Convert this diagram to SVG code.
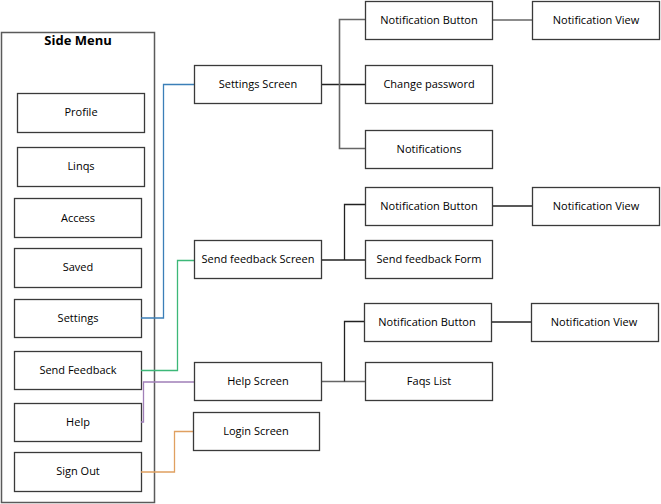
<svg xmlns="http://www.w3.org/2000/svg" width="661" height="504" viewBox="0 0 661 504">
<style>
.b{fill:#fff;stroke:#3a3a3a;stroke-width:1.3}
.c{fill:#fff;stroke:#5a5a5a;stroke-width:1.5}
.t{font-family:"Open Sans","Liberation Sans",sans-serif;font-size:11px;fill:#000;text-anchor:middle;dominant-baseline:central}
.h{font-family:"Open Sans","Liberation Sans",sans-serif;font-size:13px;font-weight:bold;fill:#000;text-anchor:middle}
.k{fill:none;stroke:#222;stroke-width:1.3}
.g{fill:none;stroke:#666;stroke-width:1.6}
</style>
<rect width="661" height="504" fill="#fff"/>
<g id="side-menu">
<rect class="c" x="1.5" y="32.5" width="153" height="470"/>
<text class="h" x="78" y="45">Side Menu</text>
</g>
<g id="profile"><rect class="b" x="17.5" y="93.5" width="127" height="39"/><text class="t" x="81" y="111">Profile</text></g>
<g id="linqs"><rect class="b" x="17.5" y="147.5" width="127" height="39"/><text class="t" x="81" y="165">Linqs</text></g>
<g id="access"><rect class="b" x="14.5" y="198.5" width="127" height="39"/><text class="t" x="78" y="217">Access</text></g>
<g id="saved"><rect class="b" x="14.5" y="248.5" width="127" height="39"/><text class="t" x="78" y="266">Saved</text></g>
<g id="settings"><rect class="b" x="14.5" y="299.5" width="127" height="38"/><text class="t" x="78" y="317">Settings</text></g>
<g id="send-feedback"><rect class="b" x="14.5" y="351.5" width="127" height="38"/><text class="t" x="78" y="369">Send Feedback</text></g>
<g id="help"><rect class="b" x="14.5" y="403.5" width="127" height="38"/><text class="t" x="78" y="421">Help</text></g>
<g id="sign-out"><rect class="b" x="14.5" y="452.5" width="127" height="39"/><text class="t" x="78" y="470">Sign Out</text></g>

<g id="connectors">
<polyline fill="none" stroke="#3b7fb8" stroke-width="1.3" points="141,318 163.5,318 163.5,84.5 194,84.5"/>
<polyline fill="none" stroke="#3cb878" stroke-width="1.3" points="141,370.5 177.5,370.5 177.5,260.5 194,260.5"/>
<polyline fill="none" stroke="#a07fb8" stroke-width="1.3" points="141,422 143.5,422 143.5,382 194,382"/>
<polyline fill="none" stroke="#e0a060" stroke-width="1.3" points="141,472 174.5,472 174.5,431.5 193,431.5"/>
<polyline class="k" points="322,84.5 366,84.5"/>
<polyline class="g" points="365,19.5 339.5,19.5 339.5,148.5 365,148.5"/>
<line class="g" x1="492" y1="20" x2="532" y2="20"/>
<polyline class="k" points="322,260 365,260"/>
<polyline class="k" points="365,204.5 344.5,204.5 344.5,260"/>
<line class="k" x1="492" y1="206" x2="532" y2="206"/>
<polyline class="g" points="322,381.5 365,381.5"/>
<polyline class="k" points="364,321.5 344.5,321.5 344.5,381.5"/>
<line class="k" x1="491" y1="322" x2="531" y2="322"/>
</g>

<g id="settings-screen"><rect class="b" x="194.5" y="65.5" width="127" height="38"/><text class="t" x="258" y="83">Settings Screen</text></g>
<g id="send-feedback-screen"><rect class="b" x="194.5" y="240.5" width="127" height="38"/><text class="t" x="258" y="258">Send feedback Screen</text></g>
<g id="help-screen"><rect class="b" x="194.5" y="362.5" width="127" height="38"/><text class="t" x="258" y="380">Help Screen</text></g>
<g id="login-screen"><rect class="b" x="193.5" y="412.5" width="126" height="38"/><text class="t" x="256" y="430">Login Screen</text></g>

<g id="notification-button-1"><rect class="b" x="365.5" y="1.5" width="127" height="38"/><text class="t" x="429" y="19">Notification Button</text></g>
<g id="notification-view-1"><rect class="b" x="532.5" y="1.5" width="127" height="38"/><text class="t" x="596" y="19">Notification View</text></g>
<g id="change-password"><rect class="b" x="365.5" y="65.5" width="127" height="38"/><text class="t" x="429" y="83">Change password</text></g>
<g id="notifications"><rect class="b" x="365.5" y="130.5" width="127" height="38"/><text class="t" x="429" y="148">Notifications</text></g>

<g id="notification-button-2"><rect class="b" x="365.5" y="187.5" width="127" height="38"/><text class="t" x="429" y="205">Notification Button</text></g>
<g id="notification-view-2"><rect class="b" x="532.5" y="187.5" width="127" height="38"/><text class="t" x="596" y="205">Notification View</text></g>
<g id="send-feedback-form"><rect class="b" x="365.5" y="240.5" width="127" height="38"/><text class="t" x="429" y="258">Send feedback Form</text></g>

<g id="notification-button-3"><rect class="b" x="364.5" y="303.5" width="127" height="38"/><text class="t" x="427" y="321">Notification Button</text></g>
<g id="notification-view-3"><rect class="b" x="531.5" y="303.5" width="127" height="38"/><text class="t" x="594" y="321">Notification View</text></g>
<g id="faqs-list"><rect class="b" x="365.5" y="362.5" width="127" height="38"/><text class="t" x="429" y="380">Faqs List</text></g>
</svg>
